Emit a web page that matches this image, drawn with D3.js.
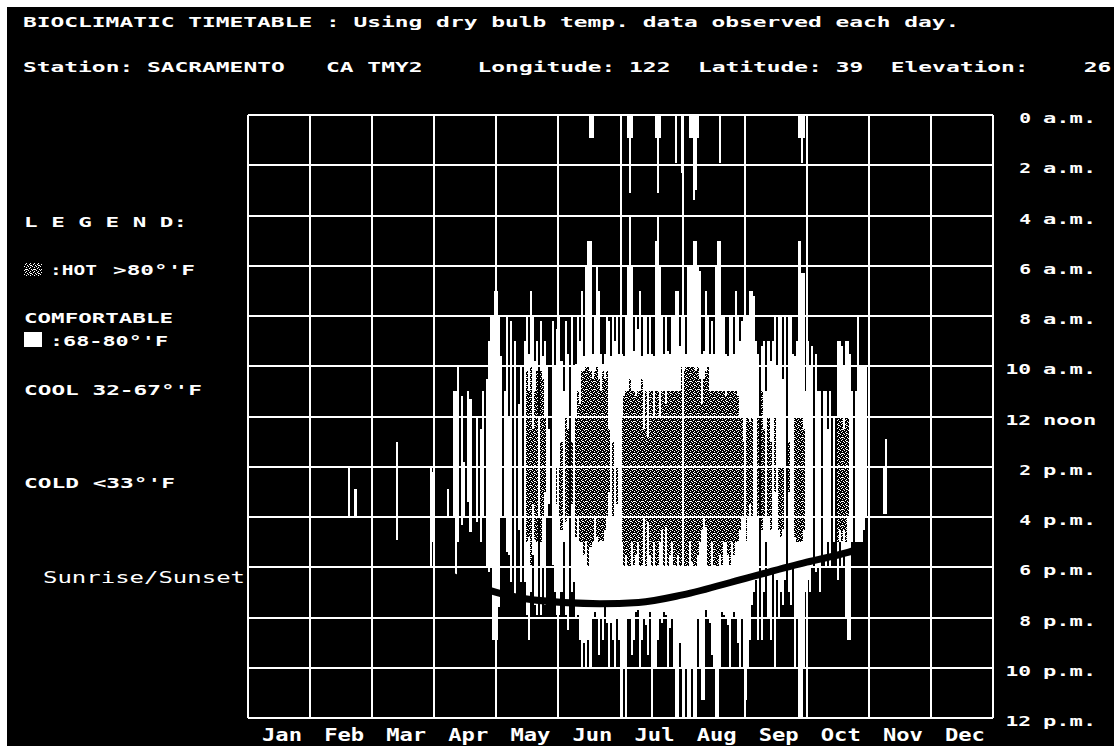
<!DOCTYPE html>
<html>
<head>
<meta charset="utf-8">
<script src="https://cdn.jsdelivr.net/npm/d3@7"></script>
<style>
  html, body { margin: 0; padding: 0; background: #fff; }
  svg { display: block; }
  text { font-family: "DejaVu Sans Mono", monospace; fill: #fff; white-space: pre; }
</style>
</head>
<body>
<svg id="chart" width="1114" height="746"></svg>
<script>
// ---- chart data -------------------------------------------------------
const titleText = "BIOCLIMATIC TIMETABLE : Using dry bulb temp. data observed each day.";
const stationText = "Station: SACRAMENTO   CA TMY2    Longitude: 122  Latitude: 39  Elevation:    26";

const monthNames = ["Jan", "Feb", "Mar", "Apr", "May", "Jun", "Jul", "Aug", "Sep", "Oct", "Nov", "Dec"];
const monthStart = [0, 31, 59, 90, 120, 151, 181, 212, 243, 273, 304, 334, 365];

const hourTicks = [0, 2, 4, 6, 8, 10, 12, 14, 16, 18, 20, 22, 24];
const hourNums = ["0", "2", "4", "6", "8", "10", "12", "2", "4", "6", "8", "10", "12"];
const hourSuffix = ["a.m.", "a.m.", "a.m.", "a.m.", "a.m.", "a.m.", "noon", "p.m.", "p.m.", "p.m.", "p.m.", "p.m.", "p.m."];

// one entry per day: [comfortable from, comfortable to, hot from, hot to] in hours, null = no bar
const apr = [
  null, null, null, null, null, null, [14.9, 16.0], null, null,
  [11.0, 16.0], [11.0, 18.4], [10.0, 17.0], null, [11.2, 16.3], [13.8, 16.0], null,
  [11.0, 15.4], [11.3, 16.6], null, null, [12.0, 16.2], null, [12.5, 17.0], [11.0, 16.0], null,
  [10.5, 18.0], [9.0, 18.2], [8.0, 18.0], [8.0, 20.9], [7.0, 20.9]
];
const may = [
  [7.0, 20.9], [8.0, 19.6], [9.6, 16.0], null, [11.0, 16.0], [8.0, 17.4], [12.0, 17.5],
  [8.2, 18.6], null, [9.0, 19.2], null, [11.5, 16.5], [10.0, 18.6], null, [9.0, 18.6],
  [8.0, 19.9, 10.2, 17.0], [9.5, 20.9, 11.0, 16.8], [7.0, 19.0, 10.0, 18.0], [8.0, 17.5, 12.5, 15.5],
  [9.8, 19.5, 11.0, 16.9], [9.0, 19.9, 10.2, 17.0], [12.0, 16.0], [8.2, 19.9, 10.2, 17.0],
  [9.6, 18.0, 10.5, 16.0], [9.0, 19.5, 12.0, 15.0], [10.0, 16.0], [12.5, 15.5], null,
  [8.2, 17.9], [10.0, 19.0], [8.5, 19.9, 14.0, 15.5]
];
const jun = [
  [8.0, 19.9, 14.0, 16.0], [9.8, 19.0, 13.0, 16.5], [11.0, 17.0], [8.2, 19.9, 12.0, 16.2],
  [9.5, 20.5, 12.5, 16.0], null, [8.0, 19.0, 13.0, 15.5], [10.0, 18.6], [9.9, 20.0, 12.0, 16.8],
  [8.0, 19.9, 11.0, 16.0], [9.0, 20.9, 11.5, 17.0], [7.0, 22.0, 10.2, 17.0], [9.6, 21.0, 10.2, 17.5],
  [6.0, 22.0, 10.0, 17.0], [5.0, 20.9, 10.0, 18.0], [5.0, 22.0, 10.2, 17.2], [9.5, 20.0, 10.5, 17.0],
  [8.0, 19.8, 10.2, 16.0], [6.0, 20.0, 10.0, 16.8], [7.0, 21.5, 10.5, 17.0], [9.5, 20.0, 11.0, 16.9],
  [9.9, 20.9, 10.2, 17.0], [9.5, 19.6, 10.5, 16.5], [8.0, 20.2, 10.2, 16.0], [8.2, 22.0, 12.5, 15.0],
  [9.6, 20.2], [8.0, 20.9, 13.0, 16.0], [9.0, 22.0], [8.0, 20.0, 14.0, 15.5], [9.5, 20.9]
];
const jul = [
  [9.5, 24, 12.0, 17.0], [9.6, 22.0, 11.2, 18.0], [8.0, 24, 11.0, 17.5], [6.0, 20.0, 11.0, 18.0],
  [4.0, 20.0, 10.5, 18.0], [6.0, 21.5, 11.0, 17.0], [9.4, 20.9, 11.0, 18.0], [8.0, 19.8, 11.2, 17.5],
  [8.5, 19.7, 11.0, 17.0], [7.0, 22.0, 11.0, 18.0], [9.6, 20.9, 10.5, 18.0], [8.0, 20.0, 12.5, 16.0],
  [8.0, 20.3, 11.0, 18.0], [9.5, 21.5, 12.8, 16.2], [8.0, 19.8, 11.0, 17.5], [9.5, 24, 11.0, 18.0],
  [9.6, 22.0, 12.0, 17.0], [5.0, 22.0, 11.0, 18.0], [4.0, 20.9, 11.0, 18.0], [6.0, 20.0, 12.0, 17.0],
  [8.0, 20.2, 11.0, 16.5], [9.5, 19.8, 11.0, 18.0], [8.0, 19.9, 11.5, 16.4], [9.4, 22.0, 11.0, 18.0],
  [9.5, 20.4, 11.0, 17.5], [8.0, 20.0, 11.0, 17.0], [8.0, 22.0, 11.0, 18.0], [7.0, 24, 11.0, 18.0],
  [7.0, 24, 11.0, 17.5], [9.2, 21.0, 11.0, 18.0], [8.0, 22.0, 10.0, 18.0]
];
const aug = [
  [8.0, 24, 10.2, 18.0], [9.5, 22.0, 10.0, 18.0], [6.0, 24, 10.0, 18.0], [6.0, 24, 10.0, 17.0],
  [6.0, 22.0, 10.0, 17.8], [5.0, 24, 10.0, 18.0], [5.0, 24, 10.2, 18.0], [6.0, 20.0, 10.0, 17.5],
  [6.2, 22.0, 10.5, 17.0], [9.5, 23.3, 11.5, 16.5], [9.4, 23.3, 10.5, 16.0], [7.0, 19.7, 10.2, 16.4],
  [8.0, 20.0, 10.0, 18.0], [9.5, 20.2, 11.0, 18.0], [8.2, 21.5, 11.0, 17.0], [9.5, 22.0, 11.0, 18.0],
  [6.0, 24, 11.0, 18.0], [5.0, 24, 11.0, 18.0], [5.0, 22.0, 11.0, 17.5], [8.0, 19.8, 11.0, 18.0],
  [8.0, 19.9, 11.0, 17.0], [9.5, 20.0, 11.2, 17.0], [9.6, 20.3, 11.0, 17.5], [8.0, 22.0, 11.0, 18.0],
  [8.0, 20.0, 11.0, 17.0], [9.5, 19.8, 11.0, 17.5], [7.0, 20.0, 11.0, 17.0], [8.0, 21.0, 11.2, 17.0],
  [9.0, 22.0, 12.0, 16.5], [8.2, 20.0, 12.0, 16.0], [8.0, 22.0, 13.0, 16.0]
];
const sep = [
  [8.0, 23.3, 12.0, 17.0], [8.0, 22.0, 12.0, 16.0], [7.0, 20.9, 12.2, 15.5], [7.0, 19.5, 12.0, 16.0],
  [7.2, 19.0], [9.0, 18.5], [9.5, 20.9, 12.0, 16.0], null, [9.2, 20.9, 11.0, 16.5],
  [9.0, 19.0, 12.5, 16.0], [11.0, 17.0], [9.0, 20.0, 12.0, 16.0], [9.8, 20.9, 13.0, 16.5], [9.0, 18.0],
  [8.0, 22.0, 12.0, 15.0], [10.0, 18.5], [8.0, 20.0, 14.0, 16.5], [8.0, 19.0, 14.0, 16.8],
  [10.5, 19.5, 14.0, 16.5], [8.0, 18.5], null, [8.0, 19.0, 13.0, 15.0], [8.0, 19.5], [9.5, 18.0],
  [9.6, 22.0, 12.0, 16.8], [9.0, 20.0, 12.0, 17.0], [5.0, 24, 12.0, 17.0], [6.3, 24, 12.0, 17.0],
  [6.3, 22.0, 12.5, 16.5], [11.0, 19.0]
];
const oct = [
  [9.0, 18.5], [10.0, 19.0], [9.2, 18.0], null, [9.5, 18.2], [11.0, 18.0], [11.0, 19.0], null,
  [11.0, 17.5], [11.0, 18.0], [12.5, 17.0], [11.0, 18.0], null, [12.0, 17.0], null,
  [9.0, 18.5, 12.0, 17.0], [9.0, 17.0, 12.0, 16.5], [9.2, 18.0, 12.0, 17.0], [10.0, 17.5, 12.5, 16.5],
  [9.0, 20.0, 12.0, 17.0], [9.0, 20.9, 12.0, 16.0], [9.5, 20.9], [11.0, 17.0], null, [11.0, 17.0],
  [8.0, 17.0], [10.0, 17.0], [10.0, 17.0], [10.0, 16.5], [10.0, 16.0], null
];

// warm nights: comfortable from midnight until the given hour
const nightDates = ["06-16", "06-17", "07-04", "07-05", "07-06", "07-18", "07-19", "07-20", "07-28", "07-31",
  "08-04", "08-05", "08-06", "08-07", "08-08", "08-19", "09-27", "09-28", "09-29"];
const nightEnds = [0.9, 0.9, 0.9, 3.1, 0.9, 0.9, 3.1, 0.9, 1.9, 2.3, 0.9, 0.9, 3.4, 3.0, 0.9, 1.9, 0.9, 1.9, 0.9];

// isolated comfortable afternoons outside the warm season
const extraDates = ["02-18", "02-21", "03-13", "03-30", "03-31", "11-08", "11-09"];
const extraFrom = [14.0, 14.9, 13.0, 14.0, 14.2, 14.0, 12.9];
const extraTo = [16.0, 16.0, 16.9, 18.0, 17.0, 15.9, 15.9];

// sunset (hours)
const sunsetDates = ["04-08", "05-01", "05-20", "06-21", "07-10", "08-01", "09-01", "10-01", "10-22", "10-30"];
const sunsetHours = [18.3, 19.0, 19.3, 19.45, 19.4, 19.1, 18.45, 17.8, 17.4, 17.2];

// ---- drawing ----------------------------------------------------------
const W = 1114, H = 746;
const plot = {left: 248, right: 993, top: 115, bottom: 718};
const cw = 13.8; // character cell of the screen font

const svg = d3.select("#chart");

const xMonth = d3.scaleLinear().domain([0, 12]).range([plot.left, plot.right]);
const xDay = d3.scaleLinear().domain(monthStart).range(monthStart.map((d, i) => xMonth(i)));
const y = d3.scaleLinear().domain([0, 24]).range([plot.top, plot.bottom]);

const doyOf = s => { const [m, d] = s.split("-").map(Number); return monthStart[m - 1] + d - 1; };

// hot stipple
const defs = svg.append("defs");
const pat = defs.append("pattern").attr("id", "stipple")
  .attr("patternUnits", "userSpaceOnUse").attr("width", 8).attr("height", 8);
pat.append("rect").attr("width", 8).attr("height", 8).attr("fill", "#000");
[[1,0],[5,0],[3,1],[7,1],[0,2],[4,2],[2,3],[6,3],[5,4],[1,5],[3,5],[7,5],[0,6],[4,6],[2,7],[6,7],[6,1],[2,5]]
  .forEach(([px, py]) => pat.append("rect").attr("x", px).attr("y", py)
    .attr("width", 1).attr("height", 1).attr("fill", "#fff"));

svg.append("rect").attr("width", W).attr("height", H).attr("fill", "#fff");
svg.append("rect").attr("x", 7).attr("y", 7).attr("width", W - 7).attr("height", H - 7).attr("fill", "#000");

// collect daily records
const days = [];
[apr, may, jun, jul, aug, sep, oct].forEach((arr, k) => {
  arr.forEach((r, i) => {
    if (r) days.push({doy: monthStart[3 + k] + i, cf: r[0], ct: r[1], hf: r[2], ht: r[3]});
  });
});
extraDates.forEach((s, i) => days.push({doy: doyOf(s), cf: extraFrom[i], ct: extraTo[i]}));
const nights = nightDates.map((s, i) => ({doy: doyOf(s), cf: 0, ct: nightEnds[i]}));

const dx0 = d => Math.round(xDay(d.doy));
const dw = d => Math.round(xDay(d.doy + 1)) - Math.round(xDay(d.doy));

const g = svg.append("g").attr("shape-rendering", "crispEdges");

g.selectAll("rect.comfort")
  .data(days.concat(nights))
  .join("rect")
  .attr("class", "comfort")
  .attr("x", dx0)
  .attr("width", dw)
  .attr("y", d => y(d.cf))
  .attr("height", d => y(d.ct) - y(d.cf))
  .attr("fill", "#fff");

g.selectAll("rect.hot")
  .data(days.filter(d => d.hf != null))
  .join("rect")
  .attr("class", "hot")
  .attr("x", dx0)
  .attr("width", dw)
  .attr("y", d => y(d.hf))
  .attr("height", d => y(d.ht) - y(d.hf))
  .attr("fill", "url(#stipple)");

// grid
const grid = svg.append("g").attr("stroke", "#fff").attr("stroke-width", 2).attr("shape-rendering", "crispEdges");
grid.selectAll("line.v")
  .data(d3.range(13))
  .join("line")
  .attr("x1", i => Math.round(xMonth(i))).attr("x2", i => Math.round(xMonth(i)))
  .attr("y1", plot.top).attr("y2", plot.bottom);
grid.selectAll("line.h")
  .data(hourTicks)
  .join("line")
  .attr("x1", plot.left).attr("x2", plot.right)
  .attr("y1", h => Math.round(y(h))).attr("y2", h => Math.round(y(h)));

// sunset curve
const sunset = sunsetDates.map((s, i) => ({doy: doyOf(s), h: sunsetHours[i]}));
svg.append("path")
  .datum(sunset)
  .attr("fill", "none")
  .attr("stroke", "#000")
  .attr("stroke-width", 7)
  .attr("d", d3.line().x(d => xDay(d.doy)).y(d => y(d.h)).curve(d3.curveMonotoneX));

// text helper
function label(x, yb, str, width, opt = {}) {
  return svg.append("text")
    .attr("x", x).attr("y", yb)
    .attr("font-size", opt.size || 14)
    .attr("font-weight", opt.weight || "bold")
    .attr("text-anchor", opt.anchor || "start")
    .attr("textLength", width)
    .attr("lengthAdjust", "spacingAndGlyphs")
    .text(str);
}

label(23, 27, titleText, titleText.length * cw - 2);
label(23, 72, stationText, stationText.length * cw - 2);

// month labels
monthNames.forEach((m, i) => {
  label((xMonth(i) + xMonth(i + 1)) / 2 + 3, 741, m, 40, {anchor: "middle", size: 18});
});

// hour labels
hourTicks.forEach((h, i) => {
  const yb = Math.round(y(h)) + 8;
  label(1031, yb, hourNums[i], hourNums[i].length * cw - 2, {anchor: "end"});
  label(1043, yb, hourSuffix[i], 4 * cw - 2);
});

// legend
label(24, 227, "L E G E N D:", 163);
svg.append("rect").attr("x", 24).attr("y", 263).attr("width", 18).attr("height", 13)
  .attr("fill", "url(#stipple)").attr("shape-rendering", "crispEdges");
label(50, 275, ":HOT", 47);
label(113, 275, ">80°'F", 82);
label(24, 323, "COMFORTABLE", 149);
svg.append("rect").attr("x", 24).attr("y", 332).attr("width", 18).attr("height", 15)
  .attr("fill", "#fff").attr("shape-rendering", "crispEdges");
label(50, 346, ":68-80°'F", 118);
label(24, 395, "COOL 32-67°'F", 178);
label(24, 488, "COLD <33°'F", 151);
label(43, 583, "Sunrise/Sunset", 202, {weight: "normal", size: 15});
</script>
</body>
</html>
